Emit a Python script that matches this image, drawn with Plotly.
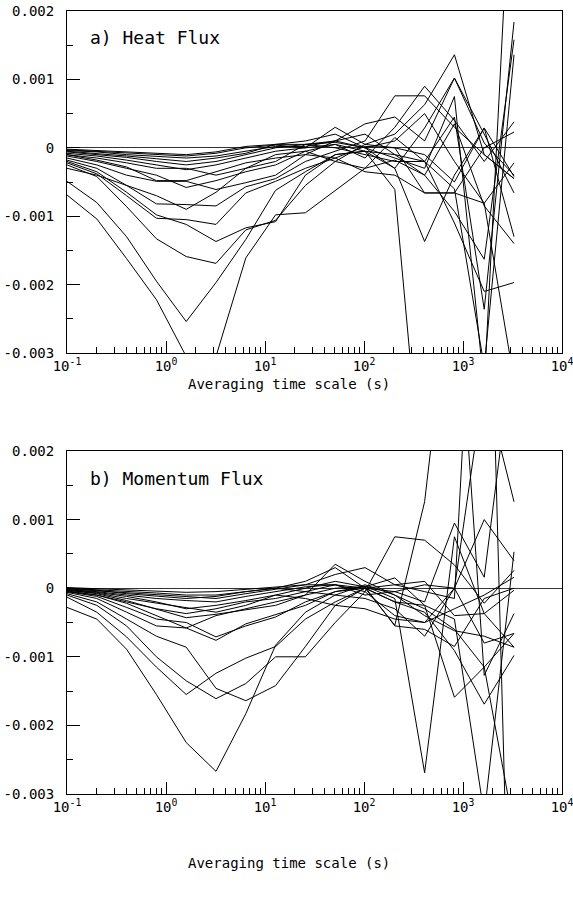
import plotly.graph_objects as go
from plotly.subplots import make_subplots

# Averaging time scales (s)
time_scale = [0.1, 0.2, 0.4, 0.8, 1.6, 3.2, 6.4, 12.8, 25.6, 51.2, 102.4, 204.8, 409.6, 819.2, 1638.4, 3276.8]

# Heat flux curves (units of 1e-3)
heat_flux = [
    [-0.69, -1.04, -1.62, -2.22, -3.05, -3.05, -1.61, -0.98, -0.95, -0.62, -0.30, -0.18, -0.40, 0.35, -0.85, -1.40],
    [-0.49, -0.80, -1.30, -1.95, -2.54, -1.97, -1.34, -0.62, -0.35, -0.10, -0.05, -0.30, -1.37, -0.40, 0.29, -0.42],
    [-0.25, -0.42, -0.86, -1.33, -1.59, -1.69, -1.20, -1.06, -0.55, -0.20, 0.05, 0.20, 0.63, 1.36, -0.10, -0.45],
    [-0.22, -0.38, -0.70, -1.03, -1.05, -1.12, -0.66, -0.49, -0.30, -0.15, 0.02, 0.00, -0.66, -0.66, -0.81, -0.22],
    [-0.20, -0.35, -0.65, -0.98, -1.12, -1.37, -1.17, -1.08, -0.40, -0.10, -0.05, -0.61, -5.40, -4.50, -4.80, -4.20],
    [-0.18, -0.30, -0.55, -0.82, -0.83, -0.85, -0.57, -0.45, -0.20, -0.05, 0.10, 0.76, 0.76, 0.30, -0.10, -0.45],
    [-0.15, -0.25, -0.40, -0.49, -0.49, -0.61, -0.51, -0.40, -0.10, 0.10, 0.35, 0.45, 0.10, 1.02, 0.07, -0.40],
    [-0.12, -0.20, -0.30, -0.40, -0.58, -0.48, -0.35, -0.25, -0.05, 0.05, -0.15, 0.30, 0.90, 0.40, -0.20, 0.38],
    [-0.10, -0.15, -0.22, -0.30, -0.30, -0.40, -0.30, -0.20, 0.05, 0.10, 0.00, -0.30, 0.29, 1.02, 0.20, -0.66],
    [-0.08, -0.12, -0.18, -0.25, -0.32, -0.25, -0.15, -0.05, 0.00, 0.05, -0.05, -0.10, -0.40, -0.93, -1.63, 1.58],
    [-0.06, -0.10, -0.14, -0.20, -0.25, -0.20, -0.10, 0.00, 0.05, 0.00, -0.10, -0.20, -0.20, 0.45, -2.36, 1.84],
    [-0.05, -0.08, -0.12, -0.16, -0.20, -0.15, -0.08, 0.05, 0.05, 0.08, 0.00, -0.15, -0.30, 0.75, -3.50, 5.00],
    [-0.04, -0.06, -0.10, -0.13, -0.15, -0.12, -0.05, 0.02, 0.02, 0.10, 0.20, -0.10, -0.20, -0.60, -3.20, 1.36],
    [-0.03, -0.05, -0.08, -0.10, -0.12, -0.08, 0.00, 0.04, 0.00, 0.30, 0.05, 0.00, -0.10, -0.50, 0.29, -1.30],
    [-0.02, -0.04, -0.06, -0.08, -0.10, -0.06, 0.02, 0.05, 0.10, 0.20, 0.00, 0.10, 0.50, -0.20, -0.81, -3.40],
    [-0.30, -0.40, -0.55, -0.70, -0.90, -0.65, -0.30, -0.10, -0.05, -0.20, -0.30, 0.15, -0.20, -1.10, -2.10, -1.97],
    [-0.10, -0.18, -0.28, -0.48, -0.48, -0.35, -0.22, -0.15, -0.10, -0.15, -0.35, -0.40, -0.66, -0.66, 0.00, 0.23],
]

# Momentum flux curves (units of 1e-3)
momentum_flux = [
    [-0.28, -0.45, -0.89, -1.55, -2.25, -2.67, -1.83, -0.83, -0.35, -0.10, 0.05, -0.10, -0.30, -0.60, -1.15, -0.66],
    [-0.13, -0.35, -0.71, -1.15, -1.55, -1.24, -1.02, -0.85, -0.45, -0.20, 0.00, -0.05, -0.20, 0.95, 0.16, 3.60],
    [-0.10, -0.25, -0.55, -1.00, -1.35, -1.61, -1.39, -1.00, -1.00, -0.50, -0.05, 0.75, 0.70, 0.34, -0.22, 0.26],
    [-0.08, -0.20, -0.45, -0.70, -0.86, -1.46, -1.64, -1.42, -0.85, -0.25, 0.00, -0.54, 1.26, 5.00, -1.27, -0.37],
    [-0.06, -0.15, -0.35, -0.55, -0.58, -0.76, -0.52, -0.39, -0.25, -0.05, 0.03, -0.15, -2.69, 0.75, -0.37, -0.86],
    [-0.05, -0.12, -0.28, -0.45, -0.50, -0.71, -0.55, -0.42, -0.20, -0.05, 0.00, -0.20, -0.35, -0.91, -1.69, -0.98],
    [-0.04, -0.10, -0.20, -0.30, -0.37, -0.30, -0.20, -0.15, -0.05, 0.05, 0.00, -0.20, -0.25, -1.59, -1.15, -3.50],
    [-0.03, -0.07, -0.15, -0.22, -0.28, -0.35, -0.25, -0.10, 0.00, 0.10, 0.02, 0.15, -0.25, -0.45, -3.30, 0.53],
    [-0.02, -0.05, -0.10, -0.15, -0.18, -0.20, -0.12, -0.05, 0.02, 0.05, -0.05, -0.40, -0.50, -0.30, -0.10, 0.16],
    [-0.01, -0.04, -0.07, -0.10, -0.13, -0.15, -0.08, -0.02, 0.05, 0.20, 0.30, 0.05, 0.10, -0.40, -0.37, -0.03],
    [0.00, -0.02, -0.05, -0.07, -0.10, -0.10, -0.05, 0.00, 0.10, 0.30, 0.00, 0.05, -0.05, -0.15, 8.00, -8.00],
    [0.01, -0.01, -0.03, -0.05, -0.06, -0.05, -0.02, 0.02, 0.05, 0.05, -0.10, -0.05, 0.05, 0.00, 1.00, 0.40],
    [0.00, -0.03, -0.08, -0.12, -0.15, -0.12, -0.05, 0.00, -0.05, -0.10, -0.15, -0.30, -0.70, 0.00, -0.80, -0.66],
    [-0.05, -0.10, -0.22, -0.40, -0.58, -0.40, -0.30, -0.20, -0.10, 0.35, 0.10, -0.10, -0.40, -0.62, -0.70, -0.86],
    [-0.02, -0.06, -0.12, -0.20, -0.30, -0.25, -0.18, -0.10, -0.15, -0.25, -0.30, -0.45, -0.50, 0.00, 3.00, 1.26],
    [-0.03, -0.08, -0.18, -0.30, -0.43, -0.38, -0.32, -0.25, -0.10, 0.00, 0.02, -0.55, -0.60, -0.85, -0.15, 0.00],
]

SCALE = 1e-3

y_tickvals = [0.002, 0.001, 0.0, -0.001, -0.002, -0.003]
y_ticktext = ["0.002", "0.001", "0", "-0.001", "-0.002", "-0.003"]
x_tickvals = [0.1, 1, 10, 100, 1000, 10000]
x_ticktext = ["10<sup>-1</sup>", "10<sup>0</sup>", "10<sup>1</sup>", "10<sup>2</sup>", "10<sup>3</sup>", "10<sup>4</sup>"]
x_minor = [m * d for d in [0.1, 1, 10, 100, 1000] for m in [2, 3, 4, 5, 6, 7, 8, 9]]

FONT = "DejaVu Sans Mono, monospace"

fig = make_subplots(rows=2, cols=1, vertical_spacing=0.1)

for row, series in [(1, heat_flux), (2, momentum_flux)]:
    for s in series:
        fig.add_trace(go.Scatter(
            x=time_scale, y=[v * SCALE for v in s], mode="lines",
            line=dict(color="black", width=1), showlegend=False, hoverinfo="skip"),
            row=row, col=1)

axis_common_x = dict(
    type="log", range=[-1, 4], tickvals=x_tickvals, ticktext=x_ticktext,
    ticks="inside", ticklen=12, tickwidth=1, tickcolor="black",
    minor=dict(tickvals=x_minor, ticks="inside", ticklen=6, tickwidth=1, tickcolor="black", showgrid=False),
    showline=True, linecolor="black", linewidth=1, mirror=True,
    showgrid=False, zeroline=False, automargin=False, ticklabeloverflow="allow",
    tickfont=dict(family=FONT, size=14, color="black"),
)
axis_common_y = dict(
    range=[-0.003, 0.002], tickvals=y_tickvals, ticktext=y_ticktext,
    ticks="inside", ticklen=13, tickwidth=1, tickcolor="black",
    minor=dict(dtick=0.0005, ticks="inside", ticklen=6, tickwidth=1, tickcolor="black", showgrid=False),
    showline=True, linecolor="black", linewidth=1, mirror=True,
    showgrid=False, zeroline=True, zerolinecolor="#333333", zerolinewidth=1,
    ticklabelstandoff=9, automargin=False, ticklabeloverflow="allow",
    tickfont=dict(family=FONT, size=14, color="black"),
)

fig.update_xaxes(**axis_common_x)
fig.update_yaxes(**axis_common_y)

plot_top, plot_bottom, H = 11, 794, 903
plot_h = plot_bottom - plot_top


def py(pix):
    return 1 - (pix - plot_top) / plot_h


fig.update_layout(
    width=573, height=H,
    margin=dict(l=67, r=11, t=plot_top, b=H - plot_bottom),
    plot_bgcolor="white", paper_bgcolor="white",
    xaxis=dict(domain=[0, 1]), yaxis=dict(domain=[py(353), 1.0]),
    xaxis2=dict(domain=[0, 1]), yaxis2=dict(domain=[0.0, py(451)]),
    annotations=[
        dict(text="a) Heat Flux", x=21 / 495, y=py(38), xref="paper", yref="paper",
             xanchor="left", yanchor="middle", showarrow=False,
             font=dict(family=FONT, size=18, color="black")),
        dict(text="b) Momentum Flux", x=21 / 495, y=py(478), xref="paper", yref="paper",
             xanchor="left", yanchor="middle", showarrow=False,
             font=dict(family=FONT, size=18, color="black")),
        dict(text="Averaging time scale (s)", x=0.448, y=py(384), xref="paper", yref="paper",
             xanchor="center", yanchor="middle", showarrow=False,
             font=dict(family=FONT, size=14, color="black")),
        dict(text="Averaging time scale (s)", x=0.448, y=py(863), xref="paper", yref="paper",
             xanchor="center", yanchor="middle", showarrow=False,
             font=dict(family=FONT, size=14, color="black")),
    ],
)

fig.write_html(
    "out.html",
    config={"displayModeBar": False},
    post_script="document.body.style.margin='0px';document.body.style.overflow='hidden';",
)
